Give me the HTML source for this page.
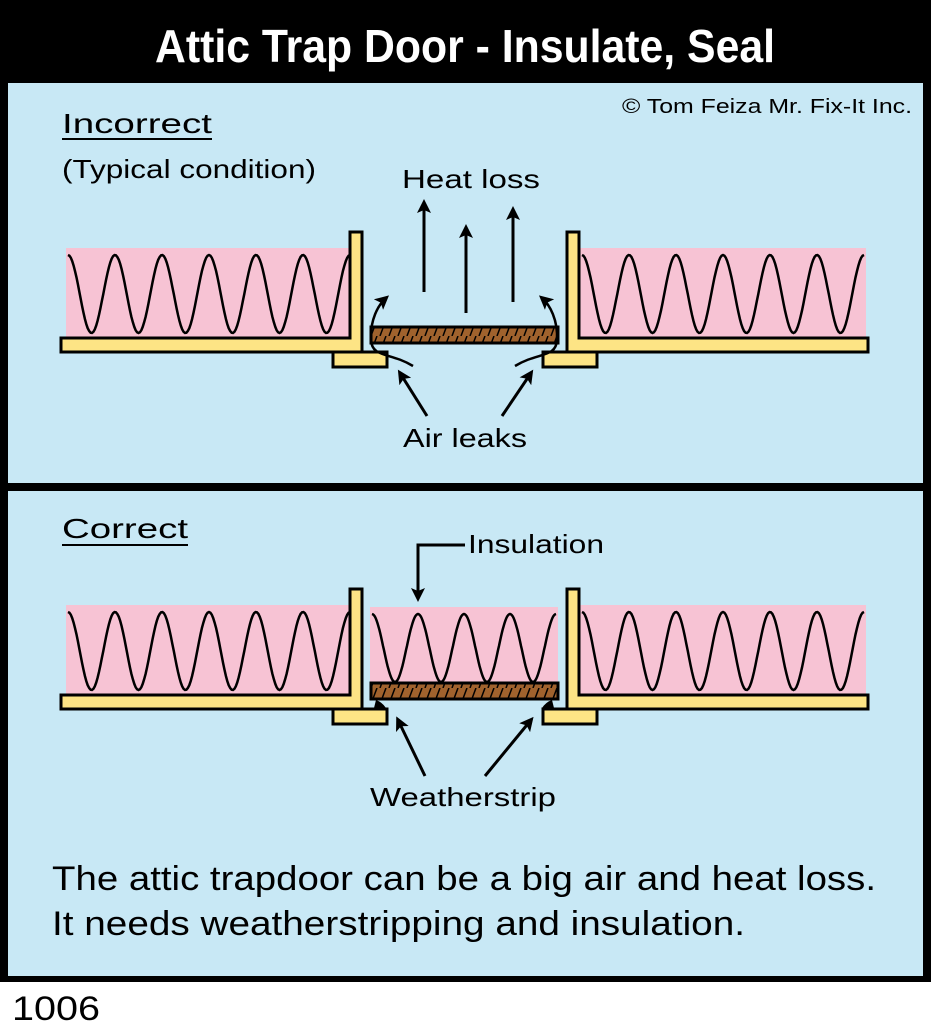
<!DOCTYPE html>
<html><head><meta charset="utf-8"><style>
html,body{margin:0;padding:0;background:#fff}
svg{display:block}
text{font-family:"Liberation Sans",sans-serif}
</style></head><body>
<svg id="s" width="931" height="1024" viewBox="0 0 931 1024" xmlns="http://www.w3.org/2000/svg">
<defs>
<pattern id="h" width="9" height="16" patternUnits="userSpaceOnUse">
<rect width="9" height="16" fill="#a0622d"/>
<line x1="2" y1="16" x2="8" y2="0" stroke="#000" stroke-width="1.5"/>
</pattern>
<marker id="a" markerWidth="14" markerHeight="14" refX="10" refY="7" orient="auto" markerUnits="userSpaceOnUse" viewBox="0 0 14 14">
<path d="M0,0 L14,7 L0,14 L3,7 z" fill="#000"/></marker>
</defs>
<rect x="0" y="0" width="931" height="982" fill="#000"/>
<text x="465" y="62" fill="#fff" font-size="46" font-weight="bold" text-anchor="middle" textLength="620" lengthAdjust="spacingAndGlyphs">Attic Trap Door - Insulate, Seal</text>
<rect x="8" y="83" width="915" height="400" fill="#c8e8f5"/>
<rect x="8" y="491" width="915" height="485" fill="#c8e8f5"/>
<g id="d1"></g>
<g id="d2"></g>
<g font-size="28" fill="#000" lengthAdjust="spacingAndGlyphs">
<text x="62" y="133" textLength="150" lengthAdjust="spacingAndGlyphs">Incorrect</text>
<line x1="62" y1="139" x2="212" y2="139" stroke="#000" stroke-width="2"/>
<text x="62" y="178" font-size="26" textLength="254" lengthAdjust="spacingAndGlyphs">(Typical condition)</text>
<text x="402" y="188" font-size="26" textLength="138" lengthAdjust="spacingAndGlyphs">Heat loss</text>
<text x="403" y="447" font-size="26" textLength="124" lengthAdjust="spacingAndGlyphs">Air leaks</text>
<text x="622" y="113" font-size="20" textLength="290" lengthAdjust="spacingAndGlyphs">© Tom Feiza Mr. Fix-It Inc.</text>
<text x="62" y="538" textLength="126" lengthAdjust="spacingAndGlyphs">Correct</text>
<line x1="62" y1="545" x2="188" y2="545" stroke="#000" stroke-width="2"/>
<text x="468" y="553" font-size="26" textLength="136" lengthAdjust="spacingAndGlyphs">Insulation</text>
<text x="370" y="806" font-size="26" textLength="186" lengthAdjust="spacingAndGlyphs">Weatherstrip</text>
<text x="52" y="890" font-size="34" textLength="824" lengthAdjust="spacingAndGlyphs">The attic trapdoor can be a big air and heat loss.</text>
<text x="52" y="935" font-size="34" textLength="693" lengthAdjust="spacingAndGlyphs">It needs weatherstripping and insulation.</text>
<text x="12" y="1020" font-size="34" textLength="88" lengthAdjust="spacingAndGlyphs">1006</text>
</g>
<g stroke="#000" stroke-width="3" fill="none">
<line x1="424" y1="292" x2="424" y2="203" marker-end="url(#a)"/>
<line x1="466" y1="313" x2="466" y2="228" marker-end="url(#a)"/>
<line x1="513" y1="302" x2="513" y2="210" marker-end="url(#a)"/>
<path d="M413,366 C390,352 372,358 371,340 C370,320 378,305 386,298" marker-end="url(#a)" stroke-width="2.5"/>
<path d="M515,366 C538,352 556,358 557,340 C558,320 550,305 542,298" marker-end="url(#a)" stroke-width="2.5"/>
<line x1="427" y1="416" x2="400" y2="373" marker-end="url(#a)"/>
<line x1="502" y1="416" x2="531" y2="373" marker-end="url(#a)"/>
<line x1="425" y1="776" x2="398" y2="720" marker-end="url(#a)"/>
<line x1="485" y1="776" x2="531" y2="720" marker-end="url(#a)"/>
<polyline points="465,545 418,545 418,598" marker-end="url(#a)"/>
</g>
</svg>
<script>
function wave(x0,x1,yt,yb,n){let d="",w=(x1-x0)/n,m=(yt+yb)/2,a=(yb-yt)/2;for(let i=0;i<=200;i++){let x=x0+(x1-x0)*i/200;let y=m+a*Math.cos(2*Math.PI*(x-x0)/w+Math.PI);d+=(i?"L":"M")+x.toFixed(1)+","+y.toFixed(1);}return d;}
function scene(g,o,mid){let s="";
const pk="#f7c3d4",yl="#fde485",st='stroke="#000" stroke-width="3"';
s+=`<rect x="66" y="${248+o}" width="286" height="90" fill="${pk}"/>`;
s+=`<rect x="580" y="${248+o}" width="286" height="90" fill="${pk}"/>`;
s+=`<path d="${wave(68,350,255+o,333+o,6)}" fill="none" stroke="#000" stroke-width="2.5"/>`;
s+=`<path d="${wave(582,864,255+o,333+o,6)}" fill="none" stroke="#000" stroke-width="2.5"/>`;
if(mid){s+=`<rect x="370" y="${250+o}" width="188" height="78" fill="${pk}"/>`;
s+=`<path d="${wave(372,556,257+o,325+o,4)}" fill="none" stroke="#000" stroke-width="2.5"/>`;}
s+=`<path d="M61,${338+o} H350 V${232+o} H362 V${352+o} H61 Z" fill="${yl}" ${st}/>`;
s+=`<path d="M868,${338+o} H579 V${232+o} H567 V${352+o} H868 Z" fill="${yl}" ${st}/>`;
s+=`<rect x="333" y="${352+o}" width="54" height="15" fill="${yl}" ${st}/>`;
s+=`<rect x="543" y="${352+o}" width="54" height="15" fill="${yl}" ${st}/>`;
let dy=mid?-1:0;
s+=`<rect x="371" y="${327+o+dy}" width="187" height="16" fill="url(#h)" ${st}/>`;
if(mid){s+=`<path d="M376,${343+o} q6,2 10,8 h-12 z M552,${343+o} q-6,2 -10,8 h12 z" fill="#000"/>`;}
g.innerHTML=s;}
scene(document.getElementById("d1"),0,false);
scene(document.getElementById("d2"),357,true);
</script>
</body></html>
